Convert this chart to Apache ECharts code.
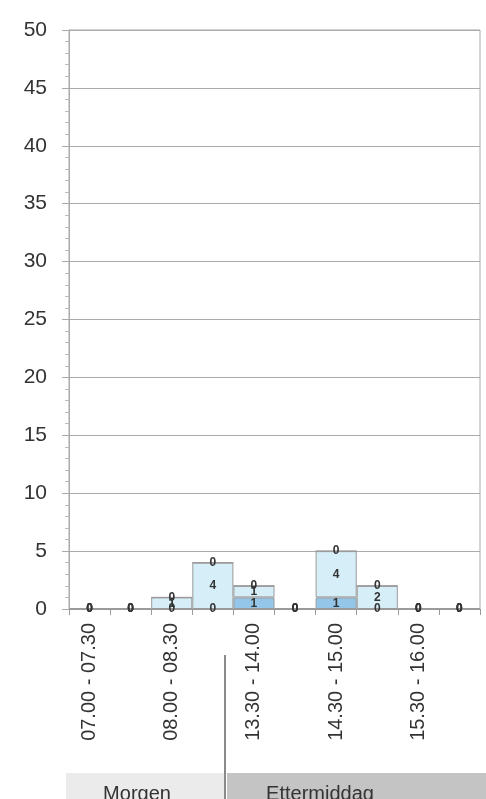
<!DOCTYPE html>
<html>
<head>
<meta charset="utf-8">
<script src="https://cdn.jsdelivr.net/npm/echarts@6/dist/echarts.min.js"></script>
<style>
  html, body { margin: 0; padding: 0; background: #fff; }
  #chart { width: 486px; height: 799px; }
</style>
</head>
<body>
<div id="chart"></div>
<script>
// Half-hour time slots
const categories = [
  '07.00 - 07.30', '07.30 - 08.00', '08.00 - 08.30', '08.30 - 09.00',
  '13.30 - 14.00', '14.00 - 14.30', '14.30 - 15.00', '15.00 - 15.30',
  '15.30 - 16.00', '16.00 - 16.30'
];
// Stacked counts per slot (bottom, middle, top)
const bottomValues = [0, 0, 0, 0, 1, 0, 1, 0, 0, 0];
const middleValues = [0, 0, 1, 4, 1, 0, 4, 2, 0, 0];
const topValues    = [0, 0, 0, 0, 0, 0, 0, 0, 0, 0];
// Period groups shown under the axis
const groupLabels = ['Morgen', 'Ettermiddag'];

const font = '"Liberation Sans", Arial, sans-serif';
const segLabel = {
  show: true, position: 'inside', color: '#333', fontSize: 12,
  fontWeight: 'bold', fontFamily: font,
  formatter: p => String(p.value)
};
const border = { borderColor: '#9a9a9a', borderWidth: 1 };

const chart = echarts.init(document.getElementById('chart'), null, { renderer: 'canvas' });
chart.setOption({
  animation: false,
  backgroundColor: '#fff',
  grid: { left: 69, right: 6, top: 30, bottom: 190, show: true, borderColor: '#aaa', borderWidth: 1 },
  xAxis: {
    type: 'category', data: categories,
    axisLine: { lineStyle: { color: '#999' } },
    axisTick: { show: true, interval: 0, length: 6, lineStyle: { color: '#999' } },
    axisLabel: { interval: 1, rotate: 90, fontSize: 20, color: '#333', fontFamily: font, margin: 14 }
  },
  yAxis: {
    type: 'value', min: 0, max: 50, interval: 5,
    axisLine: { show: true, lineStyle: { color: '#aaa' } },
    axisTick: { show: true, length: 7, lineStyle: { color: '#aaa' } },
    minorTick: { show: true, splitNumber: 5, length: 4, lineStyle: { color: '#bbb' } },
    splitLine: { show: true, lineStyle: { color: '#aaa', width: 1 } },
    axisLabel: { fontSize: 21, color: '#333', fontFamily: font, margin: 22 }
  },
  series: [
    { type: 'bar', stack: 'n', data: bottomValues, barCategoryGap: '0%',
      itemStyle: Object.assign({ color: '#93c6e8' }, border), label: segLabel },
    { type: 'bar', stack: 'n', data: middleValues, barCategoryGap: '0%',
      itemStyle: Object.assign({ color: '#d6eef8' }, border), label: segLabel },
    { type: 'bar', stack: 'n', data: topValues, barCategoryGap: '0%',
      itemStyle: Object.assign({ color: '#eef8fc' }, border), label: segLabel }
  ],
  graphic: [
    { type: 'rect', shape: { x: 66, y: 773, width: 158, height: 26 }, style: { fill: '#ebebeb' } },
    { type: 'rect', shape: { x: 227, y: 773, width: 259, height: 26 }, style: { fill: '#c4c4c4' } },
    { type: 'line', shape: { x1: 225, y1: 655, x2: 225, y2: 799 }, style: { stroke: '#8a8a8a', lineWidth: 2 } },
    { type: 'text', x: 137, y: 794, style: { text: groupLabels[0], fill: '#333', font: '20px ' + font, textAlign: 'center', textVerticalAlign: 'middle' } },
    { type: 'text', x: 320, y: 794, style: { text: groupLabels[1], fill: '#333', font: '20px ' + font, textAlign: 'center', textVerticalAlign: 'middle' } }
  ]
});
</script>
</body>
</html>
